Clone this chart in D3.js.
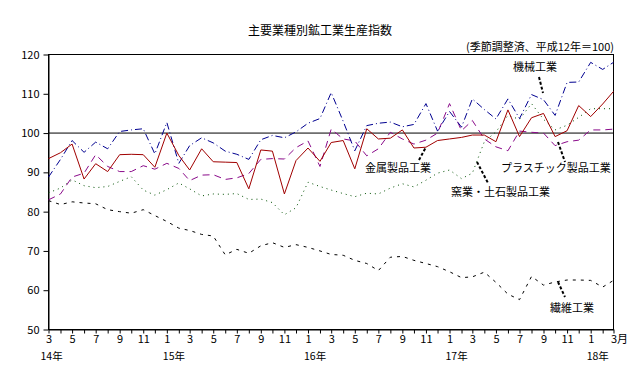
<!DOCTYPE html>
<html lang="ja">
<head>
  <meta charset="UTF-8">
  <title>主要業種別鉱工業生産指数</title>
  <script src="https://d3js.org/d3.v7.min.js"></script>
  <style>
    body { margin: 0; background: #fff; }
    text { font-family: "Noto Sans CJK JP", "Liberation Sans", sans-serif; fill: #000; }
  </style>
</head>
<body>
  <div id="root"></div>
  <script>
    // 月（平成14年3月〜平成18年3月）
    const months = d3.timeMonth.range(new Date(2002, 2, 1), new Date(2006, 3, 1))

    // 系列データ（季節調整済、平成12年=100）
    const kinzoku = [93.5, 95.0, 97.2, 88.3, 92.2, 90.2, 94.5, 94.6, 94.5, 91.3, 100.0, 94.3, 90.6,
      96.0, 92.7, 92.6, 92.5, 85.8, 95.7, 95.4, 84.5, 93.0, 96.2, 92.8, 97.6,
      98.1, 90.9, 101.1, 98.5, 98.7, 100.8, 96.2, 96.4, 98.1, 98.5, 98.9, 99.5,
      99.5, 97.8, 105.9, 99.1, 103.9, 105.0, 99.1, 100.6, 107.0, 104.2, 107.4, 110.6]
    const kikai = [88.8, 93.3, 98.1, 95.1, 97.7, 96.0, 100.4, 100.8, 101.1, 94.7, 102.7, 92.3, 96.8,
      98.8, 97.5, 95.4, 94.6, 93.3, 98.3, 99.4, 98.8, 100.3, 102.5, 103.7, 110.3,
      103.0, 95.5, 101.9, 102.5, 102.8, 101.6, 102.2, 107.5, 100.5, 105.5, 101.5, 108.7,
      106.0, 103.6, 108.7, 103.7, 109.8, 108.5, 104.5, 112.9, 113.0, 118.0, 116.2, 118.0]
    const plastic = [83.0, 84.5, 88.8, 89.8, 94.5, 91.5, 90.2, 90.2, 91.7, 90.8, 92.3, 91.0, 87.9,
      89.3, 89.4, 88.2, 88.6, 89.7, 93.3, 93.5, 93.4, 96.3, 98.0, 91.5, 101.0,
      98.5, 98.0, 94.2, 96.0, 100.2, 98.5, 97.2, 98.2, 100.0, 107.5, 100.6, 103.2,
      98.5, 96.5, 95.5, 100.5, 100.2, 100.0, 96.8, 97.8, 98.2, 100.8, 100.8, 101.0]
    const yogyo = [84.8, 86.0, 88.1, 86.6, 86.1, 86.4, 87.7, 88.9, 85.5, 84.2, 85.6, 87.3, 85.8,
      84.0, 84.5, 84.4, 84.6, 83.1, 83.2, 82.3, 79.2, 81.0, 87.5, 86.4, 85.5,
      84.6, 83.8, 84.7, 84.5, 86.0, 87.1, 86.3, 88.0, 89.8, 90.6, 88.4, 89.8,
      97.8, 100.3, 104.5, 103.5, 107.5, 103.5, 100.8, 102.0, 104.0, 106.2, 106.2, 106.2]
    const seni = [82.8, 81.8, 82.5, 82.2, 82.0, 80.5, 80.0, 79.6, 80.5, 79.0, 77.5, 75.8, 75.2,
      74.2, 73.8, 69.0, 70.4, 69.4, 71.3, 72.1, 70.9, 71.6, 70.9, 70.0, 69.1,
      68.9, 67.6, 66.8, 65.0, 68.4, 68.6, 67.6, 66.8, 66.0, 64.7, 63.2, 63.4,
      64.6, 62.0, 59.0, 57.6, 63.5, 61.3, 62.1, 62.6, 62.6, 62.5, 60.8, 62.5]

    const yTicks = [50, 60, 70, 80, 90, 100, 110, 120]
    const yearLabels = ['14年', '15年', '16年', '17年', '18年']

    const width = 638
    const height = 375
    const svg = d3.select('#root')
      .append('svg')
      .attr('width', width)
      .attr('height', height)

    // 比例尺
    const x = d3.scaleTime()
      .domain([months[0], months[months.length - 1]])
      .range([48.5, 613.5])
    const y = d3.scaleLinear()
      .domain([50, 120])
      .range([329.5, 54.5])

    // タイトル
    svg.append('text').text('主要業種別鉱工業生産指数')
      .attr('x', 320).attr('y', 35).attr('text-anchor', 'middle').attr('font-size', 12)
    svg.append('text').text('(季節調整済、平成12年＝100)')
      .attr('x', 614).attr('y', 51).attr('text-anchor', 'end').attr('font-size', 11)

    // 枠
    svg.append('rect')
      .attr('x', x.range()[0]).attr('y', y.range()[1])
      .attr('width', x.range()[1] - x.range()[0])
      .attr('height', y.range()[0] - y.range()[1])
      .attr('fill', 'none').attr('stroke', '#000')

    // 100の基準線
    svg.append('line')
      .attr('x1', x.range()[0]).attr('x2', x.range()[1])
      .attr('y1', y(100)).attr('y2', y(100))
      .attr('stroke', '#000')

    // y軸
    const yAxisG = svg.append('g')
      .attr('transform', `translate(${x.range()[0]},0)`)
      .call(d3.axisLeft(y).tickValues(yTicks).tickSize(5).tickSizeOuter(0).tickPadding(4))
    yAxisG.select('.domain').attr('stroke', '#000')
    yAxisG.selectAll('text').attr('font-size', 11).attr('font-family', 'Liberation Sans, sans-serif')

    // x軸（毎月の目盛、奇数月にラベル）
    const last = months.length - 1
    const xAxisG = svg.append('g')
      .attr('transform', `translate(0,${y.range()[0]})`)
      .call(d3.axisBottom(x)
        .tickValues(months)
        .tickSize(4)
        .tickSizeOuter(0)
        .tickPadding(2)
        .tickFormat(d => (d.getMonth() + 1) % 2 === 1 ? String(d.getMonth() + 1) : ''))
    xAxisG.selectAll('text')
      .attr('font-size', 11)
      .attr('font-family', 'Liberation Sans, sans-serif')
    // 最後は「3月」
    xAxisG.selectAll('.tick').filter((d, i) => i === last).select('text')
      .text('3月').attr('text-anchor', 'start').attr('dx', -3)
      .attr('font-family', 'Noto Sans CJK JP, sans-serif')

    // 年ラベル
    const yearStarts = [months[0]].concat(months.filter(d => d.getMonth() === 0))
    svg.append('g').selectAll('text')
      .data(yearStarts)
      .enter()
      .append('text')
      .attr('x', (d, i) => x(d) - (i === 0 ? 8 : 4))
      .attr('y', 360)
      .attr('font-size', 10.5)
      .text((d, i) => yearLabels[i])

    // 折れ線
    const series = [
      { name: '窯業・土石製品工業', values: yogyo, color: '#005000', dash: '1,4' },
      { name: '繊維工業', values: seni, color: '#000', dash: '3,5' },
      { name: 'プラスチック製品工業', values: plastic, color: '#8a0a8a', dash: '7,5' },
      { name: '機械工業', values: kikai, color: '#000090', dash: '7,3,1,3' },
      { name: '金属製品工業', values: kinzoku, color: '#a00000', dash: null }
    ]
    const line = d3.line()
      .x((d, i) => x(months[i]))
      .y(d => y(d))

    svg.append('g').selectAll('path')
      .data(series)
      .enter()
      .append('path')
      .attr('d', d => line(d.values))
      .attr('fill', 'none')
      .attr('stroke', d => d.color)
      .attr('stroke-width', 1)
      .attr('stroke-dasharray', d => d.dash)

    // 系列名と引き出し線
    const notes = [
      { text: '金属製品工業', tx: 365, ty: 172, x1: 419, y1: 160, x2: 426, y2: 147 },
      { text: '機械工業', tx: 513, ty: 71, x1: 539, y1: 77, x2: 543, y2: 93 },
      { text: 'プラスチック製品工業', tx: 501, ty: 172, x1: 558, y1: 142, x2: 565, y2: 162 },
      { text: '窯業・土石製品工業', tx: 451, ty: 196, x1: 477, y1: 162, x2: 488, y2: 183 },
      { text: '繊維工業', tx: 550, ty: 312, x1: 558, y1: 282, x2: 565, y2: 297 }
    ]
    const noteG = svg.append('g')
    noteG.selectAll('line')
      .data(notes)
      .enter()
      .append('line')
      .attr('x1', d => d.x1).attr('y1', d => d.y1)
      .attr('x2', d => d.x2).attr('y2', d => d.y2)
      .attr('stroke', '#000')
      .attr('stroke-width', 2)
      .attr('stroke-dasharray', '3,2')
    noteG.selectAll('text')
      .data(notes)
      .enter()
      .append('text')
      .attr('x', d => d.tx).attr('y', d => d.ty)
      .attr('font-size', 11)
      .text(d => d.text)
  </script>
</body>
</html>
